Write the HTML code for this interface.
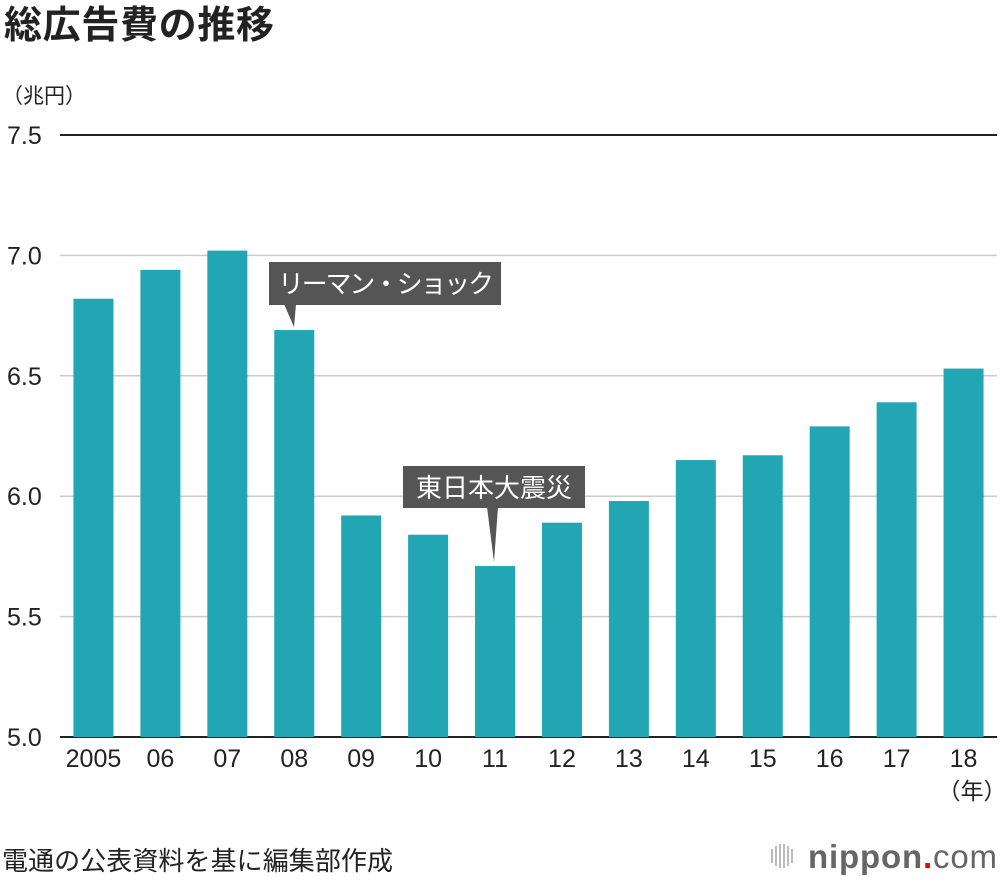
<!DOCTYPE html>
<html><head><meta charset="utf-8"><style>
body{margin:0;background:#fff;width:1000px;height:880px;overflow:hidden;font-family:"Liberation Sans","Noto Sans CJK JP",sans-serif;}
svg text{font-family:"Liberation Sans","Noto Sans CJK JP",sans-serif;}
</style></head><body>
<svg id="chart" width="1000" height="880">
<text x="4" y="38" font-size="38" font-weight="bold" fill="#222" textLength="270">総広告費の推移</text>
<text x="2" y="103" font-size="21" fill="#222">（兆円）</text>
<g id="grid"></g><g id="bars"></g><g id="xlabels"></g>
<g>
<rect x="269" y="262" width="232" height="43" fill="#555"/>
<polygon points="284,304 296,304 294,327" fill="#555"/>
<text x="278" y="293" font-size="26" fill="#fff" textLength="216">リーマン・ショック</text></g>
<g>
<rect x="403" y="466" width="182" height="42" fill="#555"/>
<polygon points="487,507 498,507 494,562" fill="#555"/>
<text x="494" y="497" font-size="26" fill="#fff" text-anchor="middle">東日本大震災</text></g>
<text x="972" y="799" font-size="23" fill="#222" text-anchor="middle">（年）</text>
<text x="2" y="870" font-size="26" fill="#222" textLength="391">電通の公表資料を基に編集部作成</text>
<g>
<g fill="#bbb"><rect x="771" y="849" width="2" height="14"/><rect x="775" y="846" width="2" height="20"/><rect x="779" y="844" width="2" height="24"/><rect x="783" y="844" width="2" height="24"/><rect x="787" y="846" width="2" height="20"/><rect x="791" y="849" width="2" height="14"/></g>
<text x="808" y="868" font-size="33" font-weight="bold" fill="#666" textLength="189">nippon<tspan fill="#e00">.</tspan><tspan font-weight="normal" fill="#666">com</tspan></text></g>
</svg>
<script>
const categories=["2005","06","07","08","09","10","11","12","13","14","15","16","17","18"];
const values=[6.82,6.94,7.02,6.69,5.92,5.84,5.71,5.89,5.98,6.15,6.17,6.29,6.39,6.53];
const yTicks=[5.0,5.5,6.0,6.5,7.0,7.5];
const NS="http://www.w3.org/2000/svg";
const x0=60,x1=997,yMin=5.0,yMax=7.5,pyMin=737,pyMax=135;
const band=(x1-x0)/categories.length;
const yS=v=>pyMin-(v-yMin)/(yMax-yMin)*(pyMin-pyMax);
const xC=i=>x0+band*(i+0.5);
function mk(t,a,p){const e=document.createElementNS(NS,t);for(const k in a)e.setAttribute(k,a[k]);p.appendChild(e);return e;}
const grid=document.getElementById('grid');
yTicks.forEach(v=>{
 const l=mk('line',{x1:x0,x2:x1,y1:yS(v),y2:yS(v),stroke:v===yMax?'#222':'#ccc','stroke-width':v===yMax?2:1.5},grid);
 
 
 const t=mk('text',{x:7,y:yS(v)+9,'font-size':25,fill:'#222'},grid);t.textContent=v.toFixed(1);
 
 
});
const bars=document.getElementById('bars'),xl=document.getElementById('xlabels');
values.forEach((v,i)=>{
 const r=mk('rect',{x:xC(i)-20,y:yS(v),width:40,height:yS(yMin)-yS(v),fill:'#22a6b3'},bars);
 
 
 const t=mk('text',{x:xC(i),y:767,'font-size':25,fill:'#222','text-anchor':'middle'},xl);t.textContent=categories[i];
 
 
});
const ax=mk('line',{x1:x0,x2:x1,y1:pyMin,y2:pyMin,stroke:'#222','stroke-width':2},grid);


</script>
</body></html>
